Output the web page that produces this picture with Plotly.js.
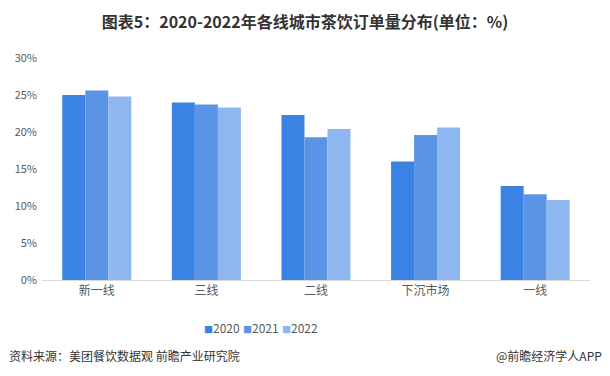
<!DOCTYPE html>
<html>
<head>
<meta charset="utf-8">
<script src="https://cdn.plot.ly/plotly-3.0.1.min.js"></script>
<style>html,body{margin:0;padding:0;background:#fff;}#chart{width:610px;height:376px;}</style>
</head>
<body>
<div id="chart"></div>
<script>
const categories = ["新一线", "三线", "二线", "下沉市场", "一线"];
const years = ["2020", "2021", "2022"];
const values2020 = [25.0, 24.0, 22.3, 16.0, 12.7];
const values2021 = [25.6, 23.7, 19.3, 19.6, 11.6];
const values2022 = [24.8, 23.3, 20.4, 20.6, 10.8];
const yTicks = [0, 5, 10, 15, 20, 25, 30];
const yTickLabels = ["0%", "5%", "10%", "15%", "20%", "25%", "30%"];

const colors = ["#3a82e3", "#5b94e4", "#8eb7ef"];
const series = [values2020, values2021, values2022];
const FONT = "'Noto Sans CJK SC', 'Microsoft YaHei', sans-serif";

const data = series.map((vals, i) => ({
  type: "bar",
  name: years[i],
  x: categories,
  y: vals,
  marker: {color: colors[i]},
  hoverinfo: "none",
  showlegend: false
}));

// compact legend: one small-square entry per year
const legendStart = 0.328, legendStep = 0.0715;
const legendAnns = years.map((y, i) => ({
  text: `<span style="color:${colors[i]};font-size:9px">■</span>${y}`,
  xref: "paper", yref: "paper", x: legendStart + i * legendStep, y: -0.216,
  xanchor: "center", yanchor: "middle", showarrow: false,
  font: {size: 12, color: "#595959"}
}));

const layout = {
  width: 610, height: 376,
  margin: {l: 42, r: 20, t: 58, b: 96},
  paper_bgcolor: "#fff", plot_bgcolor: "#fff",
  barmode: "group", bargap: 0.37, bargroupgap: 0,
  font: {family: FONT, color: "#595959", size: 12},
  title: {text: "<b>图表5：2020-2022年各线城市茶饮订单量分布(单位：%)</b>", x: 0.5, xanchor: "center", y: 0.94, yanchor: "middle",
          font: {family: FONT, size: 16, color: "#333"}},
  xaxis: {showline: true, linecolor: "#d9d9d9", linewidth: 1, ticks: "", showgrid: false,
          tickfont: {size: 12, color: "#595959"}, fixedrange: true},
  yaxis: {range: [0, 30], tickvals: yTicks, ticktext: yTickLabels, showgrid: false, zeroline: false,
          showline: false, tickfont: {size: 11, color: "#595959"}, ticklabelstandoff: 4},
  showlegend: false,
  annotations: legendAnns.concat([
    {text: "资料来源：美团餐饮数据观 前瞻产业研究院", xref: "paper", yref: "paper", x: -0.064, y: -0.338,
     xanchor: "left", yanchor: "middle", showarrow: false, font: {size: 12, color: "#333"}},
    {text: "@前瞻经济学人APP", xref: "paper", yref: "paper", x: 1.026, y: -0.338,
     xanchor: "right", yanchor: "middle", showarrow: false, font: {size: 12, color: "#333"}}
  ])
};

Plotly.newPlot("chart", data, layout, {displayModeBar: false, staticPlot: true});
</script>
</body>
</html>
